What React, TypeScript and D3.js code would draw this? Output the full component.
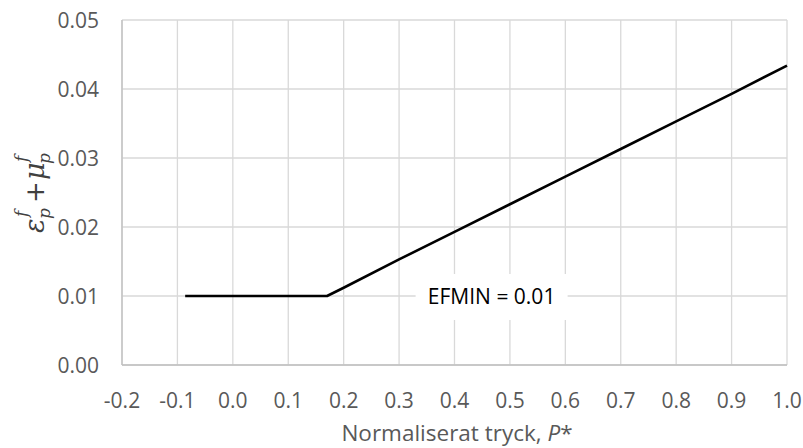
import React from "react";
import * as d3 from "d3";

const xTicks = [-0.2, -0.1, 0.0, 0.1, 0.2, 0.3, 0.4, 0.5, 0.6, 0.7, 0.8, 0.9, 1.0];
const yTicks = [0.0, 0.01, 0.02, 0.03, 0.04, 0.05];
const pValues = [-0.086, 0.17, 0.2, 0.3, 0.4, 0.5, 0.6, 0.7, 0.8, 0.9, 1.0];
const efValues = [0.01, 0.01, 0.0112, 0.0153, 0.0193, 0.0233, 0.0273, 0.0313, 0.0353, 0.0393, 0.0434];
const annotation = "EFMIN = 0.01";
const xTitle = "Normaliserat tryck, ";

const W = 803;
const H = 448;
const M = { left: 122, right: 16, top: 20, bottom: 83 };

export default function App() {
  const x = d3.scaleLinear().domain([-0.2, 1.0]).range([M.left, W - M.right]);
  const y = d3.scaleLinear().domain([0, 0.05]).range([H - M.bottom, M.top]);
  const pts = pValues.map((p, i) => [x(p), y(efValues[i])] as [number, number]);
  const line = d3.line()(pts) || "";
  const font = "'Open Sans', sans-serif";
  const grey = "#595959";
  const fmt = (f: string, v: number) => d3.format(f)(v).replace("\u2212", "-");
  const ax = x(0.467);
  const ay = y(0.01);
  return (
    <svg width={W} height={H} style={{ position: "absolute", left: 0, top: 0, background: "#fff" }}>
      {xTicks.map((t) => (
        <line key={"gx" + t} x1={x(t)} x2={x(t)} y1={y(0)} y2={y(0.05)} stroke="#d9d9d9" strokeWidth={1.3} />
      ))}
      {yTicks.map((t) => (
        <line key={"gy" + t} x1={x(-0.2)} x2={x(1.0)} y1={y(t)} y2={y(t)} stroke="#d9d9d9" strokeWidth={1.3} />
      ))}
      <line x1={x(-0.2)} x2={x(-0.2)} y1={y(0)} y2={y(0.05)} stroke="#bfbfbf" strokeWidth={1.3} />
      <line x1={x(-0.2)} x2={x(1.0)} y1={y(0)} y2={y(0)} stroke="#bfbfbf" strokeWidth={1.3} />
      <path d={line} fill="none" stroke="#000" strokeWidth={2.6} strokeLinejoin="round" />
      <rect x={ax - 76} y={ay - 22} width={152} height={46} fill="#fff" />
      <text x={ax} y={ay} dy="0.36em" textAnchor="middle" fontFamily={font} fontSize={21} fill="#000">
        {annotation}
      </text>
      {yTicks.map((t) => (
        <text key={"yl" + t} x={M.left - 23} y={y(t)} dy="0.36em" textAnchor="end" fontFamily={font} fontSize={21} fill={grey}>
          {fmt(".2f", t)}
        </text>
      ))}
      {xTicks.map((t) => (
        <text key={"xl" + t} x={x(t)} y={y(0) + 43} textAnchor="middle" fontFamily={font} fontSize={21} fill={grey}>
          {fmt(".1f", t)}
        </text>
      ))}
      <text x={457} y={441} textAnchor="middle" fontFamily={font} fontSize={22.5} fill={grey}>
        {xTitle}
        <tspan fontStyle="italic">P</tspan>*
      </text>
      <g transform="translate(44,190) rotate(-90)" fill="#404040" fontFamily="'DejaVu Serif', serif" fontStyle="italic">
        <text x={-43} y={0} fontSize={27}>ε</text>
        <text x={-29} y={6} fontSize={17}>p</text>
        <text x={-27} y={-17} fontSize={17}>f</text>
        <text x={-13} y={0} fontSize={26} fontStyle="normal">+</text>
        <text x={10} y={0} fontSize={27}>μ</text>
        <text x={26} y={6} fontSize={17}>p</text>
        <text x={28} y={-17} fontSize={17}>f</text>
      </g>
    </svg>
  );
}
